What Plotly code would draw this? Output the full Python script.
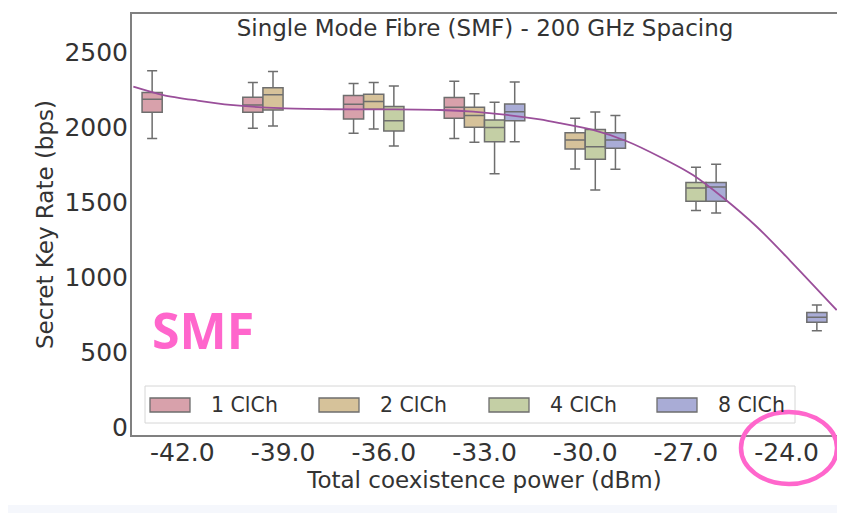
import plotly.graph_objects as go

# ---- data ----
positions = [-42, -39, -36, -33, -30, -27, -24]
tick_labels = ["-42.0", "-39.0", "-36.0", "-33.0", "-30.0", "-27.0", "-24.0"]
series_names = ["1 ClCh", "2 ClCh", "4 ClCh", "8 ClCh"]

x_1 = [-42, -39, -36, -33]
upper_1 = [2375, 2296, 2289, 2305]
q3_1 = [2229, 2198, 2209, 2196]
med_1 = [2184, 2147, 2151, 2131]
q1_1 = [2098, 2098, 2053, 2058]
lower_1 = [1924, 1991, 1958, 1924]

x_2 = [-39, -36, -33, -30]
upper_2 = [2369, 2296, 2222, 2058]
q3_2 = [2262, 2218, 2131, 1962]
med_2 = [2215, 2169, 2076, 1913]
q1_2 = [2113, 2118, 1998, 1853]
lower_2 = [2007, 1987, 1898, 1720]

x_4 = [-36, -33, -30, -27]
upper_4 = [2273, 2164, 2100, 1731]
q3_4 = [2136, 2047, 1984, 1630]
med_4 = [2042, 1996, 1869, 1594]
q1_4 = [1973, 1902, 1785, 1505]
lower_4 = [1873, 1689, 1580, 1443]

x_8 = [-33, -30, -27, -24]
upper_8 = [2300, 2076, 1751, 813]
q3_8 = [2153, 1962, 1630, 764]
med_8 = [2102, 1913, 1600, 731]
q1_8 = [2042, 1858, 1505, 698]
lower_8 = [1902, 1718, 1427, 642]

# fitted trend curve
fit_x = [-43.46, -42.57, -41.55, -40.57, -39.08, -37.60, -35.81, -34.32, -33.34,
         -32.33, -31.35, -30.75, -29.77, -28.76, -27.77, -26.79, -25.90, -24.89,
         -23.90, -22.51]
fit_y = [2269, 2213, 2176, 2147, 2125, 2118, 2117, 2113, 2102,
         2080, 2050, 2025, 1980, 1905, 1800, 1680, 1530, 1335,
         1110, 780]

fills = ["#d8a1ab", "#d6c29a", "#c4cfa5", "#a9acd6"]
edge = "#6e6e6e"

box_sets = [
    (x_1, upper_1, q3_1, med_1, q1_1, lower_1),
    (x_2, upper_2, q3_2, med_2, q1_2, lower_2),
    (x_4, upper_4, q3_4, med_4, q1_4, lower_4),
    (x_8, upper_8, q3_8, med_8, q1_8, lower_8),
]

fig = go.Figure()
for name, col, (xs, up, q3, md, q1, lo) in zip(series_names, fills, box_sets):
    fig.add_trace(go.Box(
        name=name, x=xs, q1=q1, median=md, q3=q3,
        lowerfence=lo, upperfence=up,
        fillcolor=col, line=dict(color=edge, width=1.5),
        whiskerwidth=0.5, boxpoints=False, hoverinfo="skip", showlegend=False,
    ))

fig.add_trace(go.Scatter(
    x=fit_x, y=fit_y, mode="lines",
    line=dict(color="#9a4f9a", width=1.8, shape="spline", smoothing=0.8),
    showlegend=False, hoverinfo="skip",
))

font_family = "DejaVu Sans"
txt = "#333333"

# The page body adds an 8px offset; figure is 837x505 so it fits the window.
# Helpers take page pixel positions and convert them to paper coordinates
# of the plot area (page x 132..837, page y 14..435).
def px(xp):
    return (xp - 132) / 705.0

def py(yp):
    return (435 - yp) / 421.0

shapes = [
    dict(type="rect", xref="paper", yref="paper", x0=px(-10), x1=px(860),
         y0=py(520), y1=py(505), fillcolor="#f5f7fc", line=dict(width=0), layer="below"),
    # legend frame
    dict(type="rect", xref="paper", yref="paper", x0=px(145), x1=px(795),
         y0=py(423), y1=py(386), fillcolor="white",
         line=dict(color="#d6d6d6", width=1), layer="below"),
    dict(type="circle", xref="paper", yref="paper", x0=px(741), x1=px(837),
         y0=py(484), y1=py(412), line=dict(color="#ff66cc", width=4.5)),
]
annotations = [
    dict(text="<b>SMF</b>", xref="paper", yref="paper", x=px(150), y=py(330),
         xanchor="left", yanchor="middle", showarrow=False,
         font=dict(size=50, color="#ff66cc", family="Open Sans")),
]

# manual legend: wide patches + labels
legend_left = [150, 319, 489, 657]
for name, col, lx in zip(series_names, fills, legend_left):
    shapes.append(dict(type="rect", xref="paper", yref="paper",
                       x0=px(lx), x1=px(lx + 40), y0=py(412), y1=py(398),
                       fillcolor=col, line=dict(color=edge, width=1.3), layer="above"))
    annotations.append(dict(text=name, xref="paper", yref="paper",
                            x=px(lx + 59), y=py(405), xanchor="left", yanchor="middle",
                            showarrow=False, font=dict(size=20.5, color=txt, family=font_family)))

fig.update_layout(
    width=837, height=505,
    margin=dict(l=124, r=8, t=6, b=78, autoexpand=False),
    paper_bgcolor="white", plot_bgcolor="white",
    boxmode="group", boxgap=0.2, boxgroupgap=0.0,
    showlegend=False,
    font=dict(family=font_family, color=txt),
    title=dict(text="Single Mode Fibre (SMF) - 200 GHz Spacing",
               x=px(485), xanchor="center", xref="paper",
               y=1 - 20 / 505, yanchor="middle", automargin=False,
               font=dict(size=23, color=txt, family=font_family)),
    xaxis=dict(range=[-43.5, -22.5], tickvals=positions, ticktext=tick_labels,
               showgrid=False, zeroline=False, showline=True, mirror=True,
               linecolor="#808080", linewidth=2, ticks="", automargin=False,
               ticklabelstandoff=-6,
               tickfont=dict(size=25, color=txt),
               title=dict(text="Total coexistence power (dBm)", standoff=4,
                          font=dict(size=23, color=txt))),
    yaxis=dict(range=[-53, 2753], tickvals=[0, 500, 1000, 1500, 2000, 2500],
               showgrid=False, zeroline=False, showline=True, mirror=True,
               linecolor="#808080", linewidth=2, ticks="", automargin=False,
               ticklabelstandoff=-3,
               tickfont=dict(size=25, color=txt),
               title=dict(text="Secret Key Rate (bps)", standoff=4,
                          font=dict(size=23, color=txt))),
    shapes=shapes,
    annotations=annotations,
)

fig.write_html("out.html")
